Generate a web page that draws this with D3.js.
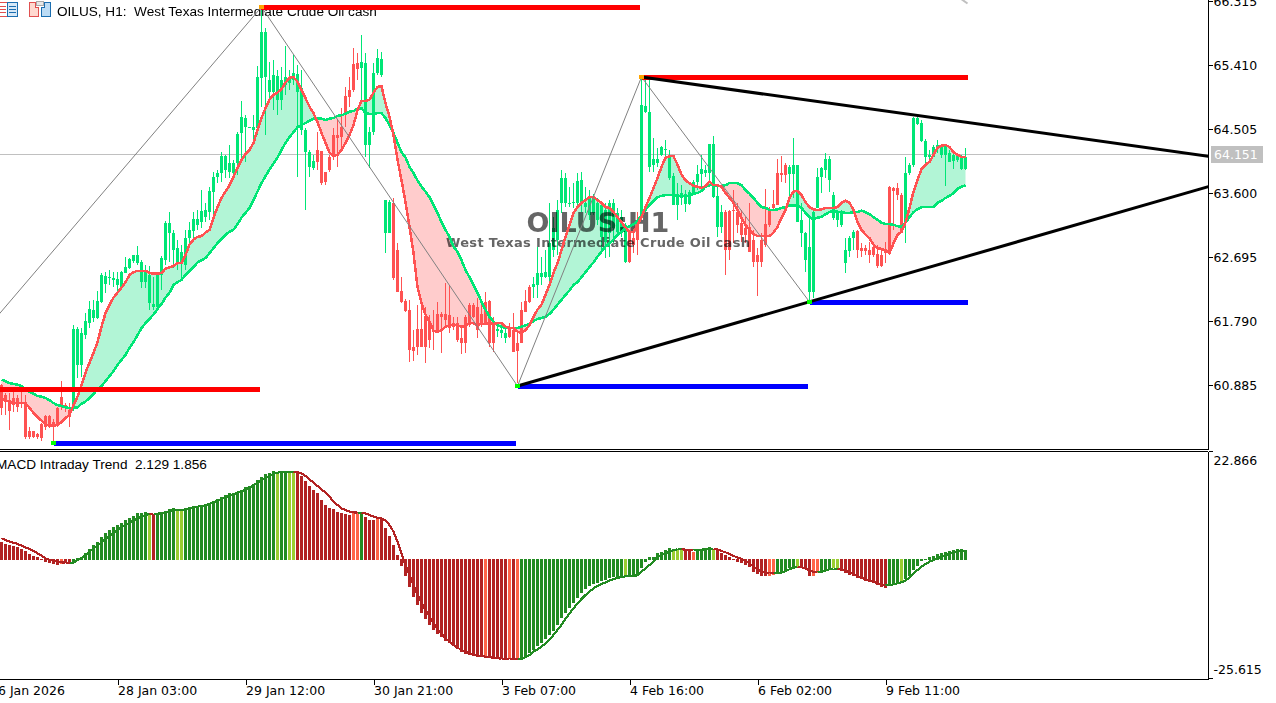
<!DOCTYPE html>
<html lang="en">

<head>
  <title>OILUS H1</title>
  <meta charset="UTF-8">
  <script src="https://cdn.jsdelivr.net/npm/d3@7"></script>
  <style>
    html, body { margin: 0; padding: 0; background: #fff; overflow: hidden; }
    svg { display: block; }
    text { font-family: "DejaVu Sans", sans-serif; fill: #000; }
  </style>
</head>

<body>
  <div class="container"></div>
  <script>
    // candles, bar 0 is the first one on screen
    const opens = [
      60.90,60.75,60.68,60.71,60.71,60.66,60.64,60.25,60.25,60.20,
      60.34,60.46,60.46,60.37,60.57,60.73,60.61,60.54,60.58,61.18,
      61.18,61.60,61.77,61.84,61.84,62.07,62.32,62.41,62.38,62.31,
      62.28,62.48,62.55,62.65,62.62,62.35,62.35,62.06,62.00,62.00,
      62.45,62.66,63.05,62.80,62.62,62.62,62.59,62.97,63.07,63.16,
      63.20,63.27,63.34,63.63,63.84,63.89,63.94,63.91,63.89,64.03,
      64.46,64.54,64.53,64.50,64.53,65.24,65.25,65.04,65.04,64.93,
      64.93,65.14,65.17,65.21,65.04,64.50,64.19,63.98,63.96,64.22,
      64.20,63.91,64.12,64.43,64.43,64.54,64.98,65.07,65.43,65.45,
      65.38,64.29,64.29,64.47,65.31,65.28,63.05,63.05,63.47,62.80,
      62.23,62.08,61.96,61.43,61.69,61.69,61.87,61.79,61.67,61.90,
      61.90,61.90,61.89,61.77,61.77,61.56,61.86,62.03,62.03,62.00,
      61.90,62.07,62.08,61.79,61.66,61.63,61.56,61.69,61.67,61.49,
      61.96,62.08,62.28,62.28,62.31,62.42,62.42,62.42,62.80,62.95,
      63.47,63.47,63.46,63.47,63.47,63.47,63.41,63.30,63.33,63.23,
      62.99,62.92,63.05,63.12,63.06,63.06,62.63,63.05,62.97,63.23,
      63.26,64.76,63.98,64.01,64.03,64.15,64.22,63.82,63.44,63.44,
      63.54,63.46,63.46,63.61,63.77,63.88,63.89,63.89,63.55,63.13,
      63.13,63.34,63.36,63.37,63.34,63.19,63.12,63.13,62.95,62.73,
      62.95,63.17,63.38,63.46,63.89,63.89,64.00,63.88,63.88,63.20,
      63.05,62.66,62.21,62.21,63.40,63.84,63.94,63.79,63.26,63.23,
      63.16,62.62,62.79,62.97,63.07,62.83,62.83,62.80,62.85,62.75,
      62.73,62.80,63.70,63.68,63.68,63.58,63.19,63.89,64.00,64.59,
      64.35,64.12,64.12,64.12,64.25,64.15,64.15,64.05,64.06,64.08,
      63.95,63.95
    ];
    const closes = [
      60.57,60.66,60.53,60.61,60.58,60.63,60.16,60.16,60.16,60.16,
      60.15,60.30,60.30,60.30,60.33,60.58,60.58,60.44,61.69,61.69,
      61.63,61.80,61.97,61.96,62.08,62.45,62.44,62.42,62.41,62.39,
      62.49,62.56,62.68,62.73,62.73,62.64,62.52,62.45,62.04,62.45,
      62.69,63.19,63.19,63.05,62.83,62.78,62.97,63.09,63.24,63.24,
      63.36,63.37,63.64,63.84,63.89,64.13,64.13,64.03,64.03,64.45,
      64.69,64.67,64.54,64.54,65.25,65.89,65.89,65.21,65.28,65.27,
      65.21,65.25,65.25,65.31,65.29,65.10,64.50,64.19,64.06,64.05,
      63.75,63.77,63.94,64.12,64.39,64.40,64.74,64.97,65.07,65.36,
      65.46,65.45,64.47,65.31,65.52,65.51,63.51,63.48,62.41,62.21,
      62.07,61.94,61.39,61.38,61.43,61.43,61.43,61.53,61.65,61.65,
      61.86,61.82,61.70,61.72,61.53,61.49,61.49,61.74,61.86,61.67,
      61.74,61.74,61.49,61.49,61.69,61.67,61.63,61.57,61.36,61.38,
      61.49,61.93,62.07,62.32,62.48,62.48,62.49,62.90,63.12,63.37,
      63.82,63.82,63.47,63.48,63.78,63.79,63.47,63.55,63.54,63.47,
      63.44,63.37,63.47,63.47,63.33,63.27,63.16,62.63,62.88,62.95,
      64.86,64.84,64.76,64.09,64.09,64.26,64.23,64.15,63.85,63.60,
      63.61,63.60,63.63,63.77,63.88,63.95,63.94,64.30,64.30,63.57,
      63.34,62.80,62.80,63.36,63.16,63.02,63.02,62.78,62.63,62.63,
      62.63,62.88,63.16,63.40,63.44,63.87,63.87,63.98,64.00,64.00,
      63.23,63.05,62.85,63.34,63.84,63.96,64.09,64.09,63.58,63.34,
      63.33,62.80,62.97,63.06,62.80,62.79,62.79,62.73,62.73,62.58,
      62.58,62.76,62.76,63.64,63.58,63.06,63.89,64.00,64.67,64.67,
      64.60,64.35,64.15,64.26,64.29,64.28,64.28,64.18,64.15,64.13,
      64.12,64.12
    ];
    const highs = [
      60.91,60.78,60.78,60.83,60.75,60.80,60.75,60.30,60.25,60.22,
      60.36,60.47,60.47,60.41,60.58,60.95,60.64,60.64,61.74,61.72,
      61.70,61.91,62.08,62.10,62.23,62.48,62.49,62.52,62.49,62.49,
      62.51,62.71,62.69,62.73,62.86,62.66,62.59,62.58,62.42,62.48,
      62.72,63.21,63.34,63.09,62.95,62.88,63.09,63.20,63.34,63.37,
      63.65,63.47,63.70,63.91,63.94,64.19,64.15,64.29,64.08,64.47,
      64.91,64.71,64.54,64.71,65.41,66.24,65.94,65.46,65.49,65.35,
      65.39,65.69,65.35,65.56,65.42,65.35,64.53,64.22,64.15,64.47,
      64.20,63.91,64.15,64.53,64.64,64.81,65.11,65.25,65.66,65.59,
      65.85,65.59,64.54,65.45,65.65,65.60,63.51,63.51,63.54,62.90,
      62.42,62.11,62.10,61.67,62.03,62.03,62.00,61.89,61.96,62.07,
      61.93,62.34,62.31,61.86,61.86,61.74,61.89,62.06,62.06,62.13,
      62.10,62.21,62.10,61.86,61.79,61.72,61.70,61.77,61.91,61.67,
      62.07,62.24,62.31,62.42,62.85,62.71,62.80,63.47,63.27,63.51,
      63.94,63.89,63.70,63.75,63.89,63.91,63.70,63.65,63.60,63.54,
      63.48,63.47,63.51,63.53,63.40,63.37,63.19,63.06,63.09,63.34,
      65.24,65.21,65.21,64.39,64.25,64.28,64.36,64.22,63.89,63.75,
      63.72,63.65,63.65,63.79,64.01,64.15,64.01,64.29,64.42,63.70,
      63.44,63.37,63.37,63.65,63.47,63.37,63.27,63.47,63.09,62.83,
      63.05,63.67,63.41,63.65,64.09,64.13,64.03,64.01,64.39,64.01,
      63.47,63.06,63.26,63.37,63.96,63.98,64.18,64.13,63.63,63.37,
      63.37,62.97,63.00,63.09,63.09,62.90,62.88,62.92,62.88,62.88,
      62.80,62.92,63.71,63.70,63.75,63.61,64.12,64.03,64.69,64.69,
      64.64,64.37,64.22,64.29,64.36,64.29,64.29,64.22,64.19,64.18,
      64.15,64.25
    ];
    const lows = [
      60.47,60.47,60.26,60.51,60.51,60.57,60.13,60.13,60.15,60.13,
      60.10,60.26,60.29,60.09,60.30,60.54,60.51,60.30,60.53,61.00,
      61.01,61.55,61.70,61.79,61.83,62.06,62.20,62.31,62.28,62.17,
      62.27,62.48,62.54,62.62,62.59,62.27,62.27,61.96,61.96,61.96,
      62.24,62.59,62.63,62.55,62.52,62.41,62.52,62.90,62.95,63.09,
      63.12,63.20,63.23,63.30,63.75,63.77,63.82,63.82,63.82,63.87,
      64.05,64.05,64.53,64.36,64.43,64.83,64.43,64.88,64.78,64.71,
      64.78,65.00,65.07,65.14,63.84,64.43,63.37,63.84,63.94,63.94,
      63.72,63.72,63.91,64.08,63.98,64.19,64.54,64.83,65.04,65.21,
      64.93,64.12,63.96,64.43,65.28,65.25,62.76,63.05,62.38,62.21,
      62.06,61.93,61.22,61.24,61.32,61.43,61.21,61.42,61.39,61.63,
      61.35,61.72,61.63,61.67,61.50,61.33,61.35,61.72,61.84,61.56,
      61.72,61.74,61.43,61.36,61.57,61.56,61.49,61.56,61.36,60.92,
      61.49,61.93,62.06,62.13,62.13,62.31,62.41,62.31,62.71,62.73,
      63.33,63.41,63.41,63.40,63.41,63.34,63.33,63.23,63.30,63.16,
      62.78,62.69,62.71,62.90,63.02,62.99,62.62,62.62,62.76,62.73,
      63.23,64.74,63.91,63.91,63.98,64.13,64.12,63.79,63.44,63.23,
      63.44,63.34,63.44,63.61,63.65,63.70,63.84,63.79,63.54,62.99,
      63.05,62.45,62.66,62.90,63.05,62.92,62.90,62.78,62.56,62.15,
      62.56,62.85,63.13,63.37,63.44,63.77,63.75,63.48,63.54,63.20,
      62.85,62.49,62.10,62.13,63.40,63.61,63.82,63.63,63.23,63.13,
      63.13,62.48,62.71,62.80,62.69,62.71,62.73,62.62,62.71,62.55,
      62.56,62.62,62.76,63.09,63.51,63.05,62.90,63.87,63.98,64.57,
      64.33,64.03,64.05,64.12,64.18,64.11,63.71,64.05,63.95,64.05,
      63.94,63.94
    ];
    const fastMa = [
      60.71,60.68,60.66,60.64,60.64,60.64,60.64,60.57,60.50,60.44,
      60.39,60.34,60.32,60.32,60.33,60.37,60.43,60.47,60.61,60.73,
      60.90,61.07,61.21,61.35,61.50,61.72,61.91,62.03,62.13,62.20,
      62.27,62.35,62.45,62.49,62.51,62.51,62.51,62.48,62.47,62.47,
      62.48,62.54,62.56,62.58,62.62,62.62,62.73,62.88,62.95,62.99,
      63.00,63.05,63.09,63.26,63.41,63.54,63.63,63.72,63.84,63.96,
      64.08,64.16,64.22,64.32,64.50,64.67,64.81,64.93,65.00,65.03,
      65.08,65.17,65.24,65.25,65.18,65.07,64.95,64.83,64.74,64.61,
      64.46,64.32,64.18,64.13,64.15,64.22,64.32,64.43,64.57,64.78,
      64.91,64.91,64.93,65.03,65.11,65.12,64.88,64.69,64.43,64.08,
      63.79,63.48,63.13,62.76,62.28,62.06,61.89,61.79,61.66,61.65,
      61.67,61.72,61.74,61.74,61.74,61.72,61.73,61.77,61.77,61.74,
      61.76,61.76,61.77,61.76,61.77,61.77,61.72,61.70,61.70,61.65,
      61.63,61.67,61.74,61.86,61.96,62.03,62.17,62.31,62.48,62.62,
      62.80,62.99,63.16,63.33,63.41,63.47,63.51,63.55,63.55,63.51,
      63.47,63.41,63.40,63.34,63.27,63.20,63.12,63.06,63.06,63.16,
      63.27,63.41,63.54,63.68,63.82,63.98,64.11,64.13,64.13,64.01,
      63.87,63.79,63.75,63.71,63.70,63.68,63.71,63.77,63.72,63.72,
      63.70,63.61,63.54,63.47,63.37,63.26,63.16,63.09,63.03,63.00,
      63.00,63.00,63.00,63.05,63.13,63.26,63.37,63.54,63.63,63.64,
      63.58,63.48,63.41,63.38,63.37,63.38,63.40,63.40,63.40,63.41,
      63.47,63.50,63.47,63.37,63.20,63.09,63.02,62.97,62.88,62.83,
      62.82,62.80,62.76,62.90,63.02,63.06,63.19,63.40,63.63,63.79,
      63.95,64.01,64.05,64.15,64.25,64.28,64.29,64.26,64.19,64.15,
      64.12,64.12
    ];
    const slowMa = [
      60.97,60.95,60.92,60.91,60.90,60.88,60.84,60.80,60.77,60.74,
      60.73,60.71,60.68,60.64,60.61,60.60,60.58,60.57,60.57,60.58,
      60.63,60.66,60.71,60.77,60.83,60.88,60.95,61.02,61.09,61.18,
      61.25,61.32,61.42,61.50,61.60,61.70,61.77,61.83,61.89,61.97,
      62.04,62.13,62.20,62.31,62.35,62.38,62.45,62.51,62.56,62.63,
      62.66,62.69,62.76,62.83,62.90,62.96,63.02,63.06,63.09,63.17,
      63.26,63.33,63.40,63.51,63.63,63.75,63.85,63.94,64.03,64.11,
      64.22,64.32,64.40,64.47,64.54,64.57,64.60,64.63,64.66,64.66,
      64.66,64.64,64.66,64.67,64.70,64.71,64.73,64.76,64.77,64.80,
      64.81,64.74,64.73,64.73,64.74,64.74,64.67,64.57,64.46,64.32,
      64.19,64.11,63.98,63.89,63.79,63.70,63.63,63.55,63.44,63.33,
      63.20,63.09,62.99,62.85,62.78,62.66,62.52,62.42,62.31,62.20,
      62.07,61.96,61.86,61.79,61.74,61.72,61.70,61.70,61.70,61.70,
      61.72,61.74,61.76,61.80,61.83,61.84,61.86,61.90,61.96,62.03,
      62.10,62.17,62.23,62.31,62.35,62.42,62.49,62.56,62.63,62.71,
      62.78,62.85,62.90,62.95,63.02,63.06,63.12,63.14,63.17,63.21,
      63.30,63.37,63.44,63.50,63.55,63.57,63.58,63.58,63.58,63.57,
      63.57,63.57,63.57,63.60,63.61,63.64,63.70,63.72,63.72,63.71,
      63.71,63.72,63.75,63.75,63.75,63.72,63.65,63.60,63.54,63.47,
      63.41,63.40,63.37,63.37,63.38,63.40,63.41,63.43,63.43,63.43,
      63.40,63.33,63.27,63.24,63.26,63.27,63.31,63.34,63.36,63.34,
      63.34,63.33,63.33,63.34,63.34,63.36,63.34,63.31,63.27,63.23,
      63.19,63.17,63.17,63.16,63.14,63.13,63.19,63.27,63.34,63.38,
      63.41,63.41,63.41,63.41,63.47,63.50,63.54,63.57,63.61,63.67,
      63.70,63.72
    ];

    const macdHist = [
      3.84,3.35,3.13,2.92,2.63,2.28,1.92,1.21,0.78,0.5,
      0.14,-0.43,-0.78,-0.93,-1.14,-0.93,-0.78,-0.78,-0.57,0.28,
      0.5,1.49,2.28,3.13,3.84,4.77,5.62,6.33,6.9,7.4,
      7.9,8.47,8.97,9.4,9.89,10.04,10.18,9.75,9.75,9.89,
      9.89,10.39,10.75,10.96,10.6,10.6,10.75,10.96,11.17,11.32,
      11.46,11.67,12.03,12.6,12.88,13.45,13.81,14.16,14.31,14.52,
      14.88,15.44,15.73,16.09,17.01,17.58,18.29,18.43,18.93,18.79,
      19.0,19.0,18.79,18.79,18.58,17.86,16.8,15.73,14.88,14.16,
      12.74,11.67,10.96,10.75,10.25,9.89,9.68,9.54,9.89,9.89,
      10.1,9.18,8.47,8.47,8.61,8.61,6.69,5.05,3.13,1.0,
      -1.35,-3.49,-5.91,-7.9,-9.68,-11.32,-12.74,-13.95,-15.02,-15.87,
      -16.58,-17.3,-17.86,-18.36,-19.07,-19.64,-20.14,-20.36,-20.57,-20.71,
      -20.85,-20.71,-20.93,-21.07,-21.28,-21.28,-21.07,-21.07,-21.28,-21.07,
      -21.07,-20.71,-20,-19.29,-18.36,-17.72,-17.01,-16.09,-15.16,-13.95,
      -12.53,-11.46,-10.39,-9.18,-8.11,-7.19,-6.33,-5.62,-5.2,-4.91,
      -4.48,-4.34,-3.99,-3.77,-3.63,-3.49,-3.49,-3.49,-3.27,-3.06,
      -1.85,-0.43,0.5,0.64,1.35,1.71,2.06,2.42,2.21,2.06,
      2.06,2.06,1.85,1.71,1.92,2.21,2.28,2.63,2.28,2.06,
      1.35,1.0,0.5,0.21,-0.43,-0.78,-1.14,-1.49,-2.56,-3.06,
      -3.49,-3.49,-3.49,-3.27,-2.92,-2.56,-2.21,-1.85,-1.49,-1.49,
      -1.85,-1.99,-3.49,-3.49,-2.92,-2.56,-2.21,-1.85,-1.85,-1.85,
      -2.35,-2.78,-3.27,-3.49,-3.84,-4.2,-4.48,-4.84,-5.05,-5.41,
      -5.77,-5.98,-5.41,-5.41,-5.05,-4.7,-4.2,-3.49,-2.21,-1.28,
      -0.21,0.21,0.5,0.78,1.14,1.49,1.71,1.92,2.06,2.21,
      2.28,2.13
    ];
    const macdSignal = [
      4.56,4.2,3.84,3.63,3.35,2.99,2.63,2.28,1.85,1.35,
      0.85,0.28,-0.07,-0.21,-0.43,-0.57,-0.64,-0.64,-0.64,-0.07,
      0.28,0.93,1.71,2.42,2.99,3.7,4.41,5.05,5.77,6.33,
      6.9,7.4,7.9,8.33,8.83,9.18,9.54,9.75,9.82,9.82,
      9.89,10.04,10.39,10.6,10.6,10.6,10.75,10.96,11.17,11.32,
      11.46,11.6,11.89,12.24,12.6,12.95,13.31,13.67,13.95,14.31,
      14.59,15.02,15.37,15.94,16.44,17.01,17.37,17.86,18.29,18.58,
      18.72,18.79,18.79,18.79,18.72,18.43,17.86,17.15,16.44,15.73,
      15.02,14.31,13.45,12.38,11.67,10.96,10.6,10.25,10.1,10.04,
      10.04,9.89,9.54,9.18,8.97,8.83,8.33,7.4,5.98,3.84,
      1.35,-1.14,-3.27,-5.41,-7.54,-9.18,-10.75,-12.17,-13.59,-14.8,
      -15.73,-16.8,-17.51,-18.22,-18.79,-19.29,-19.64,-20,-20.21,-20.43,
      -20.57,-20.71,-20.85,-20.93,-21.07,-21.14,-21.14,-21.21,-21.21,-21.21,
      -21.21,-20.85,-20.36,-19.64,-19.15,-18.58,-17.86,-17.01,-16.09,-15.02,
      -13.95,-12.67,-11.46,-10.39,-9.32,-8.4,-7.54,-6.83,-6.12,-5.62,
      -5.2,-4.84,-4.48,-4.2,-3.91,-3.7,-3.56,-3.49,-3.42,-3.35,
      -2.56,-1.85,-1.14,-0.43,0.64,1.0,1.35,1.71,2.06,2.21,
      2.21,2.14,2.06,1.99,2.06,2.14,2.21,2.28,2.35,2.21,
      1.85,1.57,1.21,0.78,0.5,0.14,-0.28,-0.78,-1.49,-2.06,
      -2.56,-2.78,-2.92,-2.92,-2.92,-2.78,-2.42,-2.06,-1.71,-1.49,
      -1.64,-1.85,-2.35,-2.63,-2.7,-2.63,-2.35,-2.06,-1.92,-1.92,
      -2.06,-2.35,-2.78,-3.06,-3.49,-3.84,-4.2,-4.48,-4.77,-5.05,
      -5.27,-5.48,-5.41,-5.27,-5.05,-4.84,-4.48,-3.77,-2.92,-2.21,
      -1.49,-0.93,-0.43,-0.07,0.28,0.64,0.93,1.21,1.49,1.71,
      1.85,1.86
    ];
    // histogram colour runs: G rising above, L weak rise, R falling, O weak fall
    const histRuns = [
      ['R',15],['O',1],['R',2],['G',19],['L',1],['R',1],['G',5],['L',2],['G',23],['L',1],
      ['G',2],['L',2],['R',14],['O',2],['G',1],['R',3],['O',1],['R',26],['O',1],['R',5],
      ['O',1],['R',1],['O',1],['G',26],['L',1],['G',11],['L',3],['R',2],['O',1],['G',4],
      ['L',1],['R',13],['O',2],['G',5],['L',1],['R',3],['O',2],['G',3],['L',2],['R',12],
      ['G',3],['L',1],['G',16]
    ];

    const priceTicks = [66.315, 65.41, 64.505, 63.6, 62.695, 61.79, 60.885];
    const macdTicks = [22.866, -25.615];
    const timeTickBars = [-3, 29, 61, 93, 125, 157, 189, 221];
    const timeTickLabels = ['26 Jan 2026', '28 Jan 03:00', '29 Jan 12:00', '30 Jan 21:00', '3 Feb 07:00', '4 Feb 16:00', '6 Feb 02:00', '9 Feb 11:00'];
    const lastPrice = 64.151;

    // zigzag swings and the levels hanging off them
    const zigzagBars = [-1, 65, 129, 160, 202];
    const zigzagPrices = [61.87, 66.24, 60.88, 65.25, 62.07];
    const levelFrom = [-1, 64.8, 160, 13, 129, 202];
    const levelTo = [64.5, 159.5, 241.6, 128.5, 201.5, 241.6];
    const levelPrices = [60.84, 66.24, 65.25, 60.08, 60.88, 62.07];
    const levelKinds = ['res', 'res', 'res', 'sup', 'sup', 'sup'];
    const markerBars = [13, 65, 129, 160, 202];
    const markerPrices = [60.08, 66.24, 60.88, 65.25, 62.07];
    const markerKinds = ['sup', 'res', 'sup', 'res', 'sup'];
    const trendBars = [[160, 301.75], [129, 301.75]];
    const trendPrices = [[65.25, 64.13], [60.88, 63.70]];
    // bit of another drawing that pokes in at the top edge
    const cutBars = [239.5, 241.5];
    const cutPrices = [66.37, 66.29];

    const CANDLE_UP = '#00e676', CANDLE_DOWN = '#ff5252';
    const histColor = { G: '#228b22', L: '#9acd32', R: '#b22222', O: '#ff6347' };
    const histState = histRuns.flatMap(r => Array(r[1]).fill(r[0]));

    const W = 1276, H = 703, AXIS_X = 1208, MAIN_BOTTOM = 449;
    const UI_FONT = '"Liberation Sans", sans-serif';
    const fmt3 = d => d.toFixed(3);

    const svg = d3.select('.container').append('svg').attr('width', W).attr('height', H);
    svg.append('defs').append('clipPath').attr('id', 'main-clip')
      .append('rect').attr('x', 0).attr('y', 0).attr('width', AXIS_X).attr('height', MAIN_BOTTOM);

    const x = d3.scaleLinear().domain([0, 241]).range([1.5, 965.5]);
    const y = d3.scaleLinear().domain([66.315, 60.885]).range([1.7, 385.7]);
    const yMacd = d3.scaleLinear().domain([22.866, -25.615]).range([452.6, 679.6]);

    const bars = d3.range(opens.length);
    const main = svg.append('g').attr('clip-path', 'url(#main-clip)');

    // price line sits under everything
    main.append('line').attr('x1', 0).attr('x2', AXIS_X).attr('y1', 154.5).attr('y2', 154.5)
      .attr('stroke', '#c0c0c0').attr('shape-rendering', 'crispEdges');

    // cloud between the two averages
    const cloud = (pick, color) => main.append('path')
      .attr('d', d3.area().x(i => x(i)).y0(i => y(slowMa[i])).y1(i => y(pick(fastMa[i], slowMa[i])))(bars))
      .attr('fill', color);
    cloud(Math.max, '#b2f5d6');
    cloud(Math.min, '#ffcccc');

    // candles, colour comes from open vs close
    const candleColor = i => closes[i] >= opens[i] ? CANDLE_UP : CANDLE_DOWN;
    const candles = main.append('g').attr('shape-rendering', 'crispEdges');
    candles.selectAll('.wick').data(bars).join('rect').attr('class', 'wick')
      .attr('x', i => x(i) - 0.5).attr('width', 1)
      .attr('y', i => Math.round(y(highs[i])))
      .attr('height', i => Math.max(1, Math.round(y(lows[i])) - Math.round(y(highs[i]))))
      .attr('fill', candleColor);
    candles.selectAll('.body').data(bars).join('rect').attr('class', 'body')
      .attr('x', i => x(i) - 1.5).attr('width', 3)
      .attr('y', i => Math.round(y(Math.max(opens[i], closes[i]))))
      .attr('height', i => Math.max(1, Math.round(y(Math.min(opens[i], closes[i]))) - Math.round(y(Math.max(opens[i], closes[i])))))
      .attr('fill', candleColor);

    // big symbol watermark, blends over the candles
    main.append('text').attr('x', 598).attr('y', 232).attr('text-anchor', 'middle')
      .style('font-size', '27px').style('font-weight', 'bold').style('fill', '#666')
      .style('mix-blend-mode', 'multiply').text('OILUS:H1');
    main.append('text').attr('x', 446).attr('y', 247).attr('textLength', 304).attr('lengthAdjust', 'spacing')
      .style('font-size', '13px').style('font-weight', 'bold').style('fill', '#666')
      .style('mix-blend-mode', 'multiply').text('West Texas Intermediate Crude Oil cash');

    // averages
    const maLine = values => d3.line().x(i => x(i)).y(i => y(values[i]))(bars);
    main.append('path').attr('d', maLine(slowMa)).attr('fill', 'none').attr('stroke', CANDLE_UP).attr('stroke-width', 2.5).attr('shape-rendering', 'crispEdges');
    main.append('path').attr('d', maLine(fastMa)).attr('fill', 'none').attr('stroke', CANDLE_DOWN).attr('stroke-width', 2.5).attr('shape-rendering', 'crispEdges');

    // header goes under the levels, the top red one cuts through it
    main.append('text').attr('x', 57).attr('y', 16).style('font-size', '13.6px')
      .style('font-family', UI_FONT).text('OILUS, H1:\u00a0\u00a0West Texas Intermediate Crude Oil cash');

    // zigzag
    main.append('path')
      .attr('d', d3.line().x(d => x(d)).y((d, i) => y(zigzagPrices[i]))(zigzagBars))
      .attr('fill', 'none').attr('stroke', '#808080').attr('stroke-width', 1);
    main.append('path')
      .attr('d', d3.line().x(d => x(d)).y((d, i) => y(cutPrices[i]))(cutBars))
      .attr('fill', 'none').attr('stroke', '#c0c0c0').attr('stroke-width', 2);

    // support and resistance levels
    main.selectAll('.level').data(levelPrices).join('rect').attr('class', 'level')
      .attr('x', (d, i) => x(levelFrom[i])).attr('width', (d, i) => x(levelTo[i]) - x(levelFrom[i]))
      .attr('y', d => Math.round(y(d)) - 2).attr('height', 5)
      .attr('fill', (d, i) => levelKinds[i] === 'res' ? '#ff0000' : '#0000ff')
      .attr('shape-rendering', 'crispEdges');

    // triangle lines
    trendBars.forEach((b, t) => {
      main.append('line').attr('x1', x(b[0])).attr('x2', x(b[1]))
        .attr('y1', y(trendPrices[t][0])).attr('y2', y(trendPrices[t][1]))
        .attr('stroke', '#000').attr('stroke-width', 3);
    });

    main.selectAll('.marker').data(markerBars).join('rect').attr('class', 'marker')
      .attr('x', d => x(d) - 2.5).attr('width', 5)
      .attr('y', (d, i) => Math.round(y(markerPrices[i])) - 2).attr('height', 4)
      .attr('fill', (d, i) => markerKinds[i] === 'res' ? '#ffa500' : '#00ff00')
      .attr('shape-rendering', 'crispEdges');

    // toolbar icons
    const icons = svg.append('g').attr('shape-rendering', 'crispEdges');
    icons.append('rect').attr('x', -4).attr('y', 2.5).attr('width', 11).attr('height', 14).attr('fill', '#fff').attr('stroke', '#e05050').attr('stroke-width', 1);
    icons.append('rect').attr('x', 7.5).attr('y', 2.5).attr('width', 10).attr('height', 14).attr('fill', '#d6e8f7').attr('stroke', '#1b6eb0').attr('stroke-width', 1);
    [6, 9, 12].forEach(v => {
      icons.append('rect').attr('x', 0).attr('y', v).attr('width', 6).attr('height', 1).attr('fill', '#e05050');
      icons.append('rect').attr('x', 9).attr('y', v).attr('width', 7).attr('height', 1).attr('fill', '#1b6eb0');
    });
    icons.append('path').attr('d', 'M29.5 2.5H35.5V7.5H38.5V16.5H29.5Z').attr('fill', '#ffd9d0').attr('stroke', '#e05050');
    icons.append('path').attr('d', 'M41.5 16.5V7.5H44.5V2.5H50.5V16.5Z').attr('fill', '#bcdcf5').attr('stroke', '#1b6eb0');
    icons.append('rect').attr('x', 36.5).attr('y', 1.5).attr('width', 7).attr('height', 4).attr('fill', '#e8e8e8').attr('stroke', '#aaa');

    // MACD pane
    const macd = svg.append('g');
    const zeroY = Math.round(yMacd(0));
    macd.append('g').attr('shape-rendering', 'crispEdges').selectAll('rect').data(macdHist).join('rect')
      .attr('x', (d, i) => x(i) - 1.5).attr('width', 3)
      .attr('y', d => d >= 0 ? Math.round(yMacd(d)) : zeroY - 1)
      .attr('height', d => Math.max(1, Math.abs(Math.round(yMacd(d)) - zeroY) + (d >= 0 ? 0 : 1)))
      .attr('fill', (d, i) => histColor[histState[i]]);
    const segLine = d3.line().x(i => x(i)).y(i => yMacd(macdSignal[i]));
    macd.append('g').attr('fill', 'none').attr('stroke-width', 2.2).attr('shape-rendering', 'crispEdges')
      .selectAll('path').data(bars.slice(1)).join('path')
      .attr('d', i => segLine([i - 1, i]))
      .attr('stroke', i => (histState[i] === 'G' || histState[i] === 'L') ? histColor.G : histColor.R);

    macd.append('text').attr('x', -4).attr('y', 469).style('font-size', '13.6px')
      .style('font-family', UI_FONT).text('MACD Intraday Trend\u00a0\u00a02.129 1.856');

    // frame lines
    const frame = svg.append('g').attr('stroke', '#000').attr('shape-rendering', 'crispEdges');
    frame.append('line').attr('x1', 0).attr('x2', AXIS_X).attr('y1', 449.5).attr('y2', 449.5);
    frame.append('line').attr('x1', 0).attr('x2', AXIS_X).attr('y1', 451.5).attr('y2', 451.5);
    frame.append('line').attr('x1', 0).attr('x2', AXIS_X).attr('y1', 679.5).attr('y2', 679.5);
    frame.append('line').attr('x1', AXIS_X + 0.5).attr('x2', AXIS_X + 0.5).attr('y1', 0).attr('y2', 449.5);
    frame.append('line').attr('x1', AXIS_X + 0.5).attr('x2', AXIS_X + 0.5).attr('y1', 451.5).attr('y2', 679.5);

    // axes
    const priceAxis = d3.axisRight(y).tickValues(priceTicks).tickFormat(fmt3).tickSize(4).tickPadding(1).offset(-0.2);
    const priceG = svg.append('g').attr('transform', `translate(${AXIS_X + 0.5},0)`).call(priceAxis);
    priceG.select('.domain').remove();

    const macdAxis = d3.axisRight(yMacd).tickValues(macdTicks).tickFormat(fmt3).tickSize(4).tickPadding(1).offset(-1.1);
    const macdG = svg.append('g').attr('transform', `translate(${AXIS_X + 0.5},0)`).call(macdAxis);
    macdG.select('.domain').remove();
    macdG.selectAll('text').attr('dy', (d, i) => i === 0 ? '1.05em' : '-0.35em');

    const timeAxis = d3.axisBottom(x).tickValues(timeTickBars).tickFormat((d, i) => timeTickLabels[i]).tickSize(5).tickPadding(2);
    const timeG = svg.append('g').attr('transform', 'translate(0,679.5)').call(timeAxis);
    timeG.select('.domain').remove();
    timeG.selectAll('text').attr('text-anchor', 'start');

    svg.selectAll('.tick text').style('font-size', '12.5px').style('fill', '#000');
    svg.selectAll('.tick line').attr('shape-rendering', 'crispEdges');

    // last price tag
    svg.append('rect').attr('x', 1211).attr('y', 146).attr('width', 52).attr('height', 17).attr('fill', '#c0c0c0');
    svg.append('text').attr('x', 1214).attr('y', 159).style('font-size', '12.5px').style('fill', '#fff').text(fmt3(lastPrice));
  </script>
</body>

</html>
